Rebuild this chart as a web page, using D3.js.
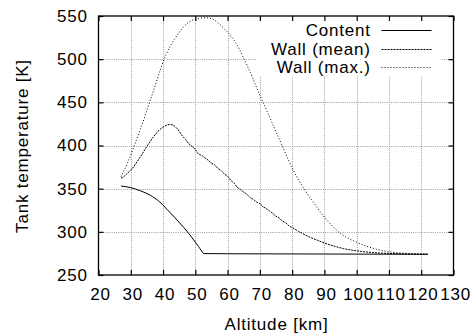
<!DOCTYPE html>
<html>
<head>
<meta charset="utf-8">
<script src="https://cdn.jsdelivr.net/npm/d3@7"></script>
<style>
  html, body { margin: 0; padding: 0; background: #fff; }
  svg { display: block; }
  text { font-family: "Liberation Sans", Arial, Helvetica, sans-serif; font-size: 17px; letter-spacing: 0.8px; fill: #000; }
</style>
</head>
<body>
<svg id="chart" width="474" height="333"></svg>
<script>
// Tank temperatures along the descent trajectory
const xTicks = [20, 30, 40, 50, 60, 70, 80, 90, 100, 110, 120, 130];
const yTicks = [250, 300, 350, 400, 450, 500, 550];

const altContent = [27, 30, 33, 36, 39, 42, 45, 48, 50, 51, 52, 52.6, 60, 70, 80, 90, 100, 110, 122];
const tempContent = [353, 351.2, 347.5, 342.5, 334.5, 323, 311, 298, 288, 283, 277.5, 274.8, 274.6, 274.5, 274.4, 274.3, 274.2, 274.1, 274];

const altMean = [27, 28, 29, 30, 31, 32, 33, 34, 35, 36, 37, 38, 39, 40, 41, 42, 43, 44, 45, 46,
  47, 48, 49, 50, 51, 52, 53, 54, 55, 56, 57, 58, 59, 60, 61, 62, 63, 64, 65, 66,
  67, 68, 69, 70, 71, 72, 73, 74, 75, 76, 77, 78, 79, 80, 82, 84, 86, 88, 90, 93,
  96, 100, 105, 110, 116, 122];
const tempMean = [362, 364.5, 368, 371.5, 376, 381.5, 387, 393, 399, 404.5, 410, 414.5, 418.5, 421.3, 423.3, 424.4, 423.8, 421, 416.5, 411,
  407, 402, 399, 395.5, 390, 388.5, 385.5, 383, 379.5, 377.5, 373.5, 371, 367, 364.5, 359.5, 356.5, 351.5, 349, 346, 343.5,
  339.5, 337.5, 334.5, 332.5, 329, 327, 324, 321.5, 318, 316, 312.5, 310.5, 307, 305, 300.5, 296.5, 293, 290, 287, 283.5,
  280.5, 278, 276, 275, 274.4, 274];

const altMax = [27, 29, 31, 33, 35, 37, 39, 41, 43, 45, 47, 49, 51, 53, 55, 57, 59, 61, 63, 65,
  67, 69, 71, 73, 75, 77, 80, 84, 87, 90, 95, 100, 105, 110, 115, 122];
const tempMax = [364, 380, 399, 419, 441, 463, 486, 506, 520, 531, 540, 545, 547, 548, 547, 542, 535, 527, 516, 501,
  485, 467, 450, 433, 416, 399, 374, 348, 332, 317, 298, 288, 281, 277, 275, 274];

const seriesNames = ["Content", "Wall (mean)", "Wall (max.)"];

const svg = d3.select("#chart");
const plotL = 98.5, plotR = 453.5, plotT = 16, plotB = 275;
const x = d3.scaleLinear().domain([20, 130]).range([plotL, plotR]);
const y = d3.scaleLinear().domain([250, 550]).range([plotB, plotT]);

// grid
const grid = svg.append("g").attr("stroke", "#9a9a9a").attr("stroke-width", 1).attr("stroke-dasharray", "1,1.2");
grid.selectAll("line.v").data(xTicks.slice(1, -1)).enter().append("line")
  .attr("x1", d => Math.round(x(d)) + 0.5).attr("x2", d => Math.round(x(d)) + 0.5)
  .attr("y1", plotT).attr("y2", plotB);
grid.selectAll("line.h").data(yTicks.slice(1, -1)).enter().append("line")
  .attr("y1", d => Math.round(y(d)) + 0.5).attr("y2", d => Math.round(y(d)) + 0.5)
  .attr("x1", plotL).attr("x2", plotR);

// series
const series = [
  { name: seriesNames[0], alt: altContent, temp: tempContent, dash: null, color: "#000" },
  { name: seriesNames[1], alt: altMean, temp: tempMean, dash: "2,1", color: "#000" },
  { name: seriesNames[2], alt: altMax, temp: tempMax, dash: "1,2", color: "#000" }
];
series.forEach(s => {
  const pts = s.alt.map((a, k) => [a, s.temp[k]]);
  const line = d3.line().x(d => x(d[0])).y(d => y(d[1])).curve(d3.curveMonotoneX);
  svg.append("path").datum(pts)
    .attr("fill", "none").attr("stroke", s.color).attr("stroke-width", 1)
    .attr("stroke-dasharray", s.dash)
    .attr("d", line);
});

// key
svg.append("rect").attr("x", 257).attr("y", plotT + 1).attr("width", 185).attr("height", 59).attr("fill", "#fff");
const keyY = [30, 48.5, 67];
series.forEach((s, i) => {
  svg.append("text").attr("x", 370.8).attr("y", keyY[i]).attr("dy", "0.36em")
    .attr("text-anchor", "end").text(s.name);
  svg.append("line").attr("x1", 381.5).attr("x2", 431.5)
    .attr("y1", Math.round(keyY[i]) + 0.5).attr("y2", Math.round(keyY[i]) + 0.5)
    .attr("stroke", s.color).attr("stroke-width", 1).attr("stroke-dasharray", s.dash);
});

// axes with inward ticks on all four sides
const tick = 5;
const gB = svg.append("g").attr("transform", `translate(0,${plotB})`)
  .call(d3.axisBottom(x).tickValues(xTicks).tickSize(-tick).tickPadding(13).tickFormat(d3.format("d")));
const gT = svg.append("g").attr("transform", `translate(0,${plotT})`)
  .call(d3.axisTop(x).tickValues(xTicks).tickSize(-tick).tickFormat(""));
const gL = svg.append("g").attr("transform", `translate(${plotL},0)`)
  .call(d3.axisLeft(y).tickValues(yTicks).tickSize(-tick).tickPadding(10.7).tickFormat(d3.format("d")));
const gR = svg.append("g").attr("transform", `translate(${plotR},0)`)
  .call(d3.axisRight(y).tickValues(yTicks).tickSize(-tick).tickFormat(""));
[gB, gT, gL, gR].forEach(g => {
  g.select(".domain").remove();
  g.selectAll("line").attr("stroke", "#000").attr("stroke-width", 1.2);
  g.selectAll("text").attr("font-size", null).attr("font-family", null).attr("fill", "#000");
});
gB.selectAll("text").attr("dx", "1.5");

// frame
svg.append("rect").attr("x", plotL).attr("y", plotT).attr("width", plotR - plotL).attr("height", plotB - plotT)
  .attr("fill", "none").attr("stroke", "#000").attr("stroke-width", 1.3);

// axis titles
svg.append("text").attr("x", 276.5).attr("y", 329.5).attr("text-anchor", "middle").text("Altitude [km]");
svg.append("text").attr("transform", "translate(27.5,146) rotate(-90)").attr("text-anchor", "middle").text("Tank temperature [K]");
</script>
</body>
</html>
